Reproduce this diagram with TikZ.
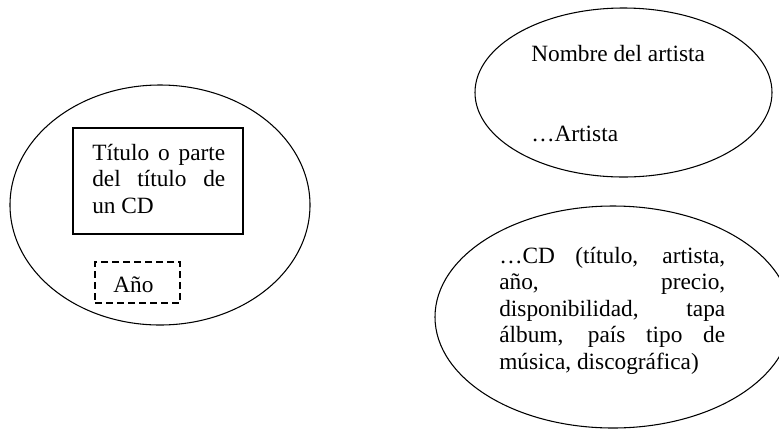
\documentclass[tikz,border=0pt]{standalone}
\usepackage{fontspec}
\setmainfont{Liberation Serif}
\usetikzlibrary{shapes.geometric}

\tikzset{
  outline/.style={draw=black, line width=0.8pt},
  oval/.style={outline, ellipse, inner sep=0pt},
  framebox/.style={outline, rectangle, inner sep=0pt},
  dashbox/.style={draw=black, line width=0.8pt, rectangle, inner sep=0pt,
                  dash pattern=on 5.25pt off 3pt},
  label/.style={inner sep=0pt, font=\fontsize{17.5}{19.9}\selectfont},
  block/.style={label, align=left, anchor=north west},
}

\begin{document}
\begin{tikzpicture}[x=0.75pt, y=-0.75pt]
  \useasboundingbox (0,0) rectangle (779,430);
  \clip (0,0) rectangle (779,430);

  % search form: title field and year field
  \node[oval, minimum width=225pt, minimum height=180pt] (form) at (160,205) {};
  \node[framebox, minimum width=127.5pt, minimum height=79.5pt] (titlebox) at (158,181) {};
  \node[block] (titletext) at (92,141.4)
    {\strut\makebox[99.75pt][s]{Título o parte}\\
     \makebox[99.75pt][s]{del título de}\\
     un CD};
  \node[dashbox, minimum width=63.75pt, minimum height=30.75pt] (yearbox) at (137.5,282.5) {};
  \node[label, anchor=base west] (yeartext) at (113,292) {Año};

  % artist lookup
  \node[oval, minimum width=222.75pt, minimum height=126.75pt] (artist) at (623.5,92.5) {};
  \node[label, anchor=base west] (artistname) at (531,61) {Nombre del artista};
  \node[label, anchor=base west] (artistresult) at (531,141.7) {…Artista};

  % CD result
  \node[oval, minimum width=267pt, minimum height=166.5pt] (cd) at (613,317) {};
  \node[block] (cdtext) at (499,244.4)
    {\strut\makebox[169.5pt][s]{…CD (título, artista,}\\
     \makebox[169.5pt][s]{año, precio,}\\
     \makebox[169.5pt][s]{disponibilidad, tapa}\\
     \makebox[169.5pt][s]{álbum, país tipo de}\\
     música, discográfica)};
\end{tikzpicture}
\end{document}
